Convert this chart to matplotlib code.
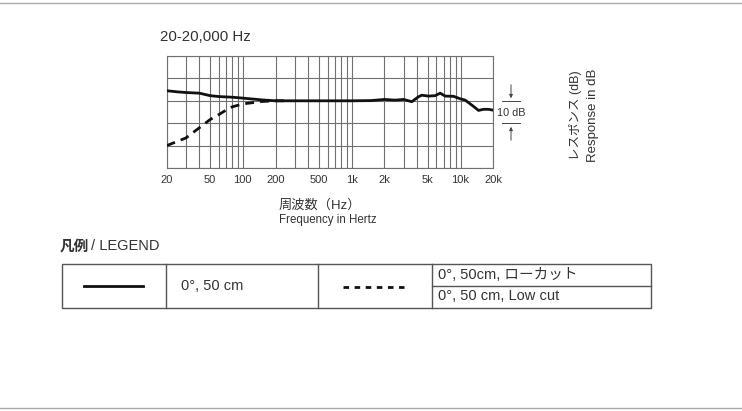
import numpy as np
import matplotlib
matplotlib.use("Agg")
import matplotlib.pyplot as plt
from matplotlib.lines import Line2D
from matplotlib.patches import Rectangle

plt.rcParams['font.family'] = ['Liberation Sans', 'Noto Sans CJK JP', 'DejaVu Sans']

# Frequency response, 0 deg at 50 cm (dB vs Hz)
freq_flat = [20, 25, 30, 40, 50, 60, 80, 100, 150, 200, 500, 1000, 1500, 2000, 2500, 3000,
             3570, 4110, 4410, 5080, 5850, 6500, 7230, 8630, 9930, 11040, 13160, 14630,
             16260, 18070, 20000]
resp_flat = [4.5, 4.0, 3.7, 3.4, 2.3, 1.9, 1.6, 1.2, 0.4, 0.0, 0.0, 0.0, 0.1, 0.6, 0.3, 0.6,
             -0.4, 1.8, 2.5, 2.1, 2.3, 3.4, 2.1, 2.0, 0.9, 0.3, -2.5, -4.3, -3.8, -3.8, -4.2]

# Low cut curve (merges with the flat one above ~200 Hz)
freq_lowcut = [20, 30, 40, 50, 60, 70, 80, 100, 150, 200, 250]
resp_lowcut = [-20.0, -16.6, -12.0, -8.4, -6.2, -4.2, -2.7, -1.4, -0.3, 0.0, 0.0]

xtick_vals = [20, 50, 100, 200, 500, 1000, 2000, 5000, 10000, 20000]
xtick_labels = ['20', '50', '100', '200', '500', '1k', '2k', '5k', '10k', '20k']

W, H = 742, 411
fig = plt.figure(figsize=(W / 100, H / 100), dpi=100)

def fx(px):
    return px / W

def fy(py):
    return 1 - py / H

txt = '#333333'
grid_c = '#707070'

ax = fig.add_axes([fx(166.7), fy(168), fx(493.3) - fx(166.7), fy(56) - fy(168)])
ax.set_xscale('log')
ax.set_xlim(20, 20000)
ax.set_ylim(-30, 20)

# grid: every 1-2-3...9 per decade, every 10 dB
minor_x = []
for dec in [10, 100, 1000, 10000]:
    for m in range(1, 10):
        v = dec * m
        if 20 <= v <= 20000:
            minor_x.append(v)
for v in minor_x:
    ax.axvline(v, color=grid_c, lw=0.8, zorder=1)
for v in range(-30, 21, 10):
    ax.axhline(v, color=grid_c, lw=0.8, zorder=1)

ax.plot(freq_flat, resp_flat, color='#111111', lw=2.0, zorder=3, solid_joinstyle='round')
ax.plot(freq_lowcut, resp_lowcut, color='#111111', lw=2.0, ls=(0, (3.2, 2.2)), zorder=3)

ax.set_xticks(xtick_vals)
ax.set_xticklabels(xtick_labels)
ax.xaxis.set_minor_locator(matplotlib.ticker.NullLocator())
ax.set_yticks([])
ax.tick_params(axis='x', length=0, pad=5, labelsize=8, labelcolor=txt)
for s in ax.spines.values():
    s.set_color(grid_c)
    s.set_linewidth(0.8)

# 10 dB scale marker
ax.annotate('', xy=(fx(511), fy(101)), xytext=(fx(511), fy(82)), xycoords='figure fraction',
            arrowprops=dict(arrowstyle='-|>', color='#444444', lw=0.7, mutation_scale=5))
ax.annotate('', xy=(fx(511), fy(124)), xytext=(fx(511), fy(143)), xycoords='figure fraction',
            arrowprops=dict(arrowstyle='-|>', color='#444444', lw=0.7, mutation_scale=5))
fig.add_artist(Line2D([fx(502), fx(520)], [fy(101.5), fy(101.5)], color='#444444', lw=0.7))
fig.add_artist(Line2D([fx(502), fx(520)], [fy(123.5), fy(123.5)], color='#444444', lw=0.7))
fig.text(fx(497), fy(112.5), '10 dB', fontsize=7.8, color=txt, va='center', ha='left')

# titles / axis labels
fig.text(fx(160), fy(37), '20-20,000 Hz', fontsize=10.8, color=txt, va='center', ha='left')
fig.text(fx(576), fy(115), 'レスポンス (dB)', fontsize=9, color=txt, rotation=90,
         va='center', ha='center')
fig.text(fx(593), fy(115), 'Response in dB', fontsize=9.5, color=txt, rotation=90,
         va='center', ha='center')
fig.text(fx(279), fy(205), '周波数（Hz）', fontsize=9.5, color=txt, va='center', ha='left')
fig.text(fx(279), fy(220), 'Frequency in Hertz', fontsize=8.3, color=txt, va='center', ha='left')

# top / bottom rules
fig.add_artist(Line2D([0, 1], [fy(3), fy(3)], color='#aaaaaa', lw=1.0))
fig.add_artist(Line2D([0, 1], [fy(408), fy(408)], color='#aaaaaa', lw=1.0))

# legend table
fig.text(fx(60), fy(246), '凡例', fontsize=10.5, color=txt, va='center', ha='left',
         fontweight='bold')
fig.text(fx(91), fy(246), '/ LEGEND', fontsize=10.5, color=txt, va='center', ha='left')
tb = '#555555'
fig.add_artist(Rectangle((fx(62), fy(308)), fx(651) - fx(62), fy(264) - fy(308),
                         fill=False, ec=tb, lw=1.0))
for xv in [166, 318, 432]:
    fig.add_artist(Line2D([fx(xv), fx(xv)], [fy(264), fy(308)], color=tb, lw=1.0))
fig.add_artist(Line2D([fx(432), fx(651)], [fy(285.5), fy(285.5)], color=tb, lw=1.0))
fig.add_artist(Line2D([fx(84), fx(143)], [fy(286), fy(286)], color='#111111', lw=2.0))
fig.add_artist(Line2D([fx(343), fx(404)], [fy(287), fy(287)], color='#111111', lw=2.0,
                      ls=(0, (2.0, 2.0))))
fig.text(fx(181), fy(286), '0°, 50 cm', fontsize=10.5, color=txt, va='center', ha='left')
fig.text(fx(438), fy(274.5), '0°, 50cm, ローカット', fontsize=10.5, color=txt, va='center', ha='left')
fig.text(fx(438), fy(296.5), '0°, 50 cm, Low cut', fontsize=10.5, color=txt, va='center', ha='left')

fig.savefig('out.png', dpi=100)
